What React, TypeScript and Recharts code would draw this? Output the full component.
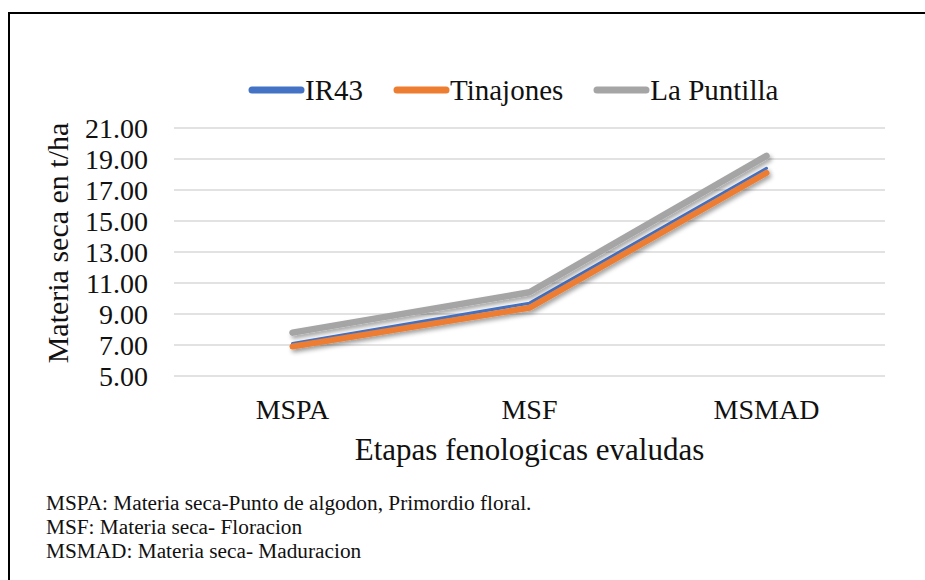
import { LineChart, Line, XAxis, YAxis, CartesianGrid } from 'recharts'

const stages = ['MSPA', 'MSF', 'MSMAD']
const ir43 = [7.1, 9.7, 18.4]
const tinajones = [6.9, 9.4, 18.1]
const laPuntilla = [7.8, 10.4, 19.2]
const yTicks = [5, 7, 9, 11, 13, 15, 17, 19, 21]

const series = [
  { key: 'ir43', name: 'IR43', color: '#4472C4', width: 3 },
  { key: 'tinajones', name: 'Tinajones', color: '#ED7D31', width: 6 },
  { key: 'laPuntilla', name: 'La Puntilla', color: '#A5A5A5', width: 6.5 },
]

const footnotes = [
  'MSPA: Materia seca-Punto de algodon, Primordio floral.',
  'MSF: Materia seca- Floracion',
  'MSMAD: Materia seca- Maduracion',
]

const chartData = stages.map((stage, i) => ({
  stage,
  ir43: ir43[i],
  tinajones: tinajones[i],
  laPuntilla: laPuntilla[i],
}))

const font = "'Liberation Serif', 'Times New Roman', serif"

const YTitle = ({ viewBox }: { viewBox?: { x: number; y: number; width: number; height: number } }) => {
  if (!viewBox) return null
  const x = viewBox.x + 68
  const y = viewBox.y + viewBox.height / 2 - 9
  return (
    <text x={x} y={y} transform={`rotate(-90, ${x}, ${y})`} textAnchor="middle" fontFamily={font} fontSize={30} fill="#111">
      Materia seca en t/ha
    </text>
  )
}

export default function App() {
  return (
    <div style={{ position: 'absolute', left: 0, top: 0, width: 925, height: 580, background: '#fff', overflow: 'hidden', fontFamily: font }}>
      <svg width={0} height={0} style={{ position: 'absolute' }}>
        <defs>
          <filter id="lineShadow" x="-10%" y="-30%" width="120%" height="160%">
            <feDropShadow dx={2} dy={3} stdDeviation={2} floodColor="#000" floodOpacity={0.35} />
          </filter>
        </defs>
      </svg>

      {/* chart frame, right and bottom edges fall outside the picture */}
      <div style={{ position: 'absolute', left: 8, top: 12, width: 940, height: 600, borderLeft: '2px solid #000', borderTop: '2px solid #000' }} />

      {/* legend */}
      <div style={{ position: 'absolute', top: 72, left: 248, display: 'flex', alignItems: 'center', gap: 30, fontSize: 29, color: '#111', lineHeight: '36px' }}>
        {series.map(s => (
          <div key={s.key} style={{ display: 'flex', alignItems: 'center' }}>
            <svg width={57} height={12}>
              <line x1={4} y1={6} x2={53} y2={6} stroke={s.color} strokeWidth={7} strokeLinecap="round" />
            </svg>
            <span>{s.name}</span>
          </div>
        ))}
      </div>

      <div style={{ position: 'absolute', left: 0, top: 0 }}>
        <LineChart width={925} height={580} data={chartData} margin={{ top: 128, right: 40, bottom: 114, left: 0 }}>
          <CartesianGrid horizontal vertical={false} stroke="#D9D9D9" strokeWidth={1.5} />
          <XAxis
            dataKey="stage"
            axisLine={false}
            tickLine={false}
            tickSize={0}
            tickMargin={23}
            height={90}
            padding={{ left: 118.5, right: 118.5 }}
            tick={{ fontSize: 28, fill: '#111', fontFamily: font }}
            label={{ value: 'Etapas fenologicas evaludas', position: 'insideBottom', offset: 6, fontSize: 31, fill: '#111', fontFamily: font }}
          />
          <YAxis
            domain={[5, 21]}
            ticks={yTicks}
            interval={0}
            width={174}
            axisLine={false}
            tickLine={false}
            tickSize={0}
            tickMargin={26}
            tickFormatter={(v: number) => v.toFixed(2)}
            tick={{ fontSize: 28, fill: '#111', fontFamily: font }}
            label={<YTitle />}
          />
          {series.map(s => (
            <Line
              key={s.key}
              dataKey={s.key}
              name={s.name}
              stroke={s.color}
              strokeWidth={s.width}
              strokeLinecap="round"
              strokeLinejoin="round"
              dot={false}
              activeDot={false}
              filter="url(#lineShadow)"
              isAnimationActive={false}
            />
          ))}
        </LineChart>
      </div>

      {/* footnotes */}
      <div style={{ position: 'absolute', left: 46, top: 491, fontSize: 21.3, lineHeight: '24px', color: '#111' }}>
        {footnotes.map(f => (
          <div key={f}>{f}</div>
        ))}
      </div>
    </div>
  )
}
